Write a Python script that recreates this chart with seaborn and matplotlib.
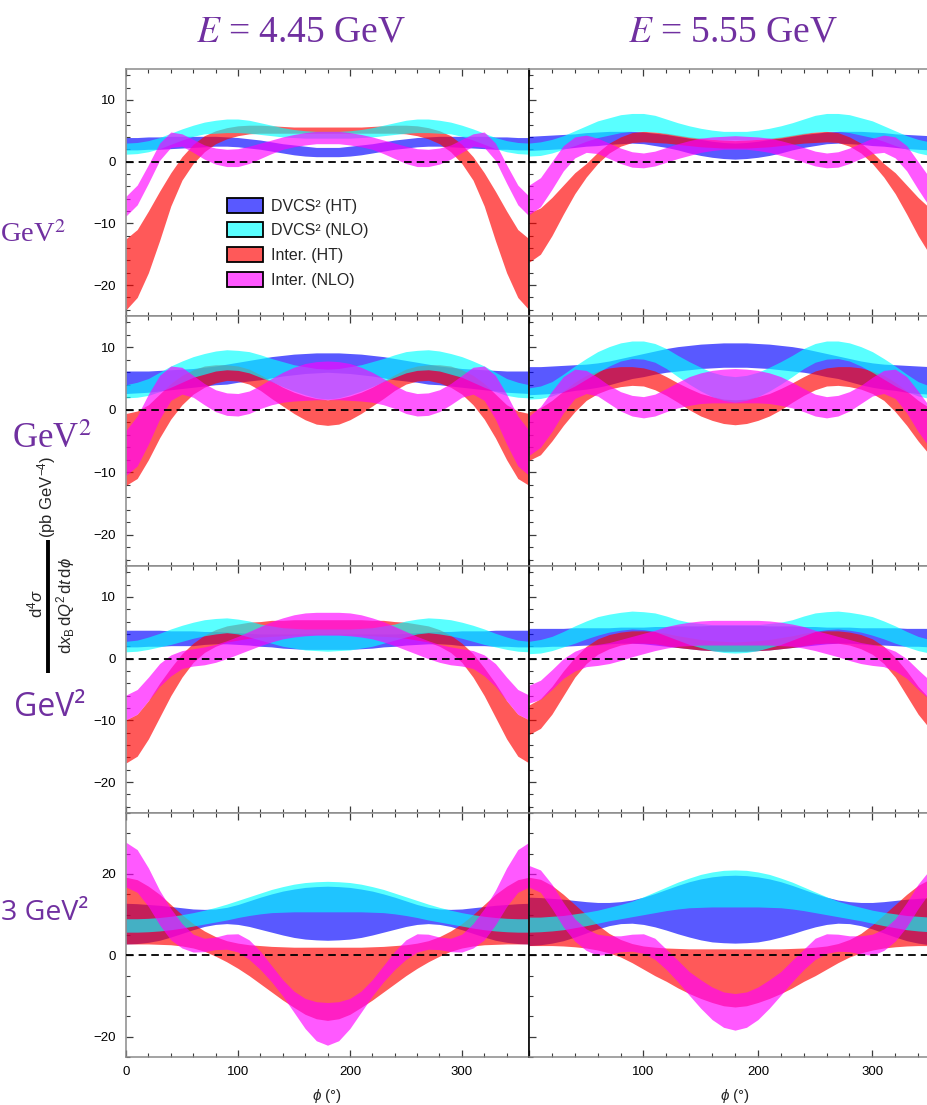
import matplotlib
matplotlib.use("Agg")
import matplotlib.pyplot as plt
import seaborn as sns
from matplotlib.colors import to_rgba
from matplotlib.lines import Line2D
from matplotlib.patches import Patch
from matplotlib.ticker import FixedLocator, MultipleLocator

# ---------------------------------------------------------------------------
# Azimuthal angle grid (degrees)
PHI = [0, 10, 20, 30, 40, 50, 60, 70, 80, 90, 100, 110, 120, 130, 140, 150, 160, 170, 180,
       190, 200, 210, 220, 230, 240, 250, 260, 270, 280, 290, 300, 310, 320, 330, 340, 350, 360]

# Cross-section bands (pb GeV^-4): lower / upper edge of each band
# ---- Q^2 bin 1 ----------------------------------------------------------
Q1_E445_DVCS_HT_HI = [3.9,3.9,4.0,4.0,4.1,4.1,4.1,4.1,4.1,4.0,3.9,3.7,3.5,3.2,2.9,2.7,2.5,2.3,2.3,2.3,2.5,2.7,2.9,3.2,3.5,3.7,3.9,4.0,4.1,4.1,4.1,4.1,4.1,4.0,4.0,3.9,3.9]
Q1_E445_DVCS_HT_LO = [1.9,1.9,2.0,2.0,2.1,2.2,2.3,2.4,2.5,2.5,2.4,2.2,2.0,1.7,1.4,1.1,0.9,0.8,0.8,0.8,0.9,1.1,1.4,1.7,2.0,2.2,2.4,2.5,2.5,2.4,2.3,2.2,2.1,2.0,2.0,1.9,1.9]
Q1_E445_DVCS_NLO_HI = [3.0,3.1,3.4,3.9,4.6,5.3,5.9,6.4,6.7,6.9,6.9,6.7,6.3,5.9,5.5,5.2,5.0,4.9,4.9,4.9,5.0,5.2,5.5,5.9,6.3,6.7,6.9,6.9,6.7,6.4,5.9,5.3,4.6,3.9,3.4,3.1,3.0]
Q1_E445_DVCS_NLO_LO = [1.2,1.3,1.6,2.1,2.8,3.5,4.1,4.5,4.6,4.7,4.7,4.6,4.4,4.2,4.0,3.9,3.8,3.8,3.8,3.8,3.8,3.9,4.0,4.2,4.4,4.6,4.7,4.7,4.6,4.5,4.1,3.5,2.8,2.1,1.6,1.3,1.2]
Q1_E445_INT_HT_HI = [-12.5,-11.0,-8.0,-4.8,-1.8,0.8,2.8,4.2,5.0,5.5,5.8,5.9,5.9,5.8,5.7,5.6,5.6,5.6,5.6,5.6,5.6,5.6,5.7,5.8,5.9,5.9,5.8,5.5,5.0,4.2,2.8,0.8,-1.8,-4.8,-8.0,-11.0,-12.5]
Q1_E445_INT_HT_LO = [-24.0,-22.0,-18.0,-12.8,-7.2,-3.0,-0.3,1.6,2.9,3.7,4.2,4.5,4.6,4.6,4.6,4.6,4.6,4.6,4.6,4.6,4.6,4.6,4.6,4.6,4.6,4.5,4.2,3.7,2.9,1.6,-0.3,-3.0,-7.2,-12.8,-18.0,-22.0,-24.0]
Q1_E445_INT_NLO_HI = [-5.6,-3.8,-0.5,3.0,4.8,4.5,3.6,2.7,2.2,2.0,2.1,2.5,3.0,3.5,4.0,4.4,4.7,4.9,4.9,4.9,4.7,4.4,4.0,3.5,3.0,2.5,2.1,2.0,2.2,2.7,3.6,4.5,4.8,3.0,-0.5,-3.8,-5.6]
Q1_E445_INT_NLO_LO = [-8.8,-7.0,-3.5,0.2,2.3,2.5,1.5,0.4,-0.4,-0.8,-0.8,-0.3,0.5,1.3,2.0,2.4,2.7,2.9,2.9,2.9,2.7,2.4,2.0,1.3,0.5,-0.3,-0.8,-0.8,-0.4,0.4,1.5,2.5,2.3,0.2,-3.5,-7.0,-8.8]

Q1_E555_DVCS_HT_HI = [4.1,4.2,4.3,4.4,4.5,4.7,4.8,4.9,4.9,4.9,4.8,4.6,4.4,4.1,3.8,3.6,3.3,3.1,3.0,3.1,3.3,3.6,3.8,4.1,4.4,4.6,4.8,4.9,4.9,4.9,4.8,4.7,4.5,4.4,4.3,4.2,4.1]
Q1_E555_DVCS_HT_LO = [1.8,1.9,2.0,2.1,2.3,2.5,2.6,2.8,2.9,3.0,2.9,2.6,2.3,1.9,1.4,1.0,0.7,0.5,0.4,0.5,0.7,1.0,1.4,1.9,2.3,2.6,2.9,3.0,2.9,2.8,2.6,2.5,2.3,2.1,2.0,1.9,1.8]
Q1_E555_DVCS_NLO_HI = [3.0,3.2,3.6,4.2,5.0,5.8,6.6,7.1,7.6,7.8,7.8,7.5,6.9,6.3,5.8,5.4,5.1,4.9,4.9,4.9,5.1,5.4,5.8,6.3,6.9,7.5,7.8,7.8,7.6,7.1,6.6,5.8,5.0,4.2,3.6,3.2,3.0]
Q1_E555_DVCS_NLO_LO = [0.9,1.0,1.4,2.0,2.6,3.3,3.9,4.3,4.7,4.9,4.9,4.8,4.5,4.2,3.9,3.7,3.6,3.5,3.5,3.5,3.6,3.7,3.9,4.2,4.5,4.8,4.9,4.9,4.7,4.3,3.9,3.3,2.6,2.0,1.4,1.0,0.9]
Q1_E555_INT_HT_HI = [-8.3,-7.5,-5.8,-3.8,-1.8,-0.3,1.5,3.0,4.0,4.7,4.9,4.8,4.6,4.3,4.0,3.8,3.6,3.5,3.4,3.5,3.6,3.8,4.0,4.3,4.6,4.8,4.9,4.7,4.0,3.0,1.5,-0.3,-1.8,-3.8,-5.8,-7.5,-8.3]
Q1_E555_INT_HT_LO = [-16.3,-15.0,-12.0,-8.5,-5.2,-2.5,-0.3,1.4,2.5,3.1,3.2,3.1,3.0,2.8,2.6,2.4,2.3,2.2,2.2,2.2,2.3,2.4,2.6,2.8,3.0,3.1,3.2,3.1,2.5,1.4,-0.3,-2.5,-5.2,-8.5,-12.0,-15.0,-16.3]
Q1_E555_INT_NLO_HI = [-3.8,-2.6,0.0,2.6,4.0,4.3,3.8,3.0,2.2,1.6,1.4,1.7,2.3,2.9,3.4,3.8,4.0,4.1,4.2,4.1,4.0,3.8,3.4,2.9,2.3,1.7,1.4,1.6,2.2,3.0,3.8,4.3,4.0,2.6,0.0,-2.6,-3.8]
Q1_E555_INT_NLO_LO = [-8.6,-7.3,-4.5,-1.5,0.6,1.5,1.3,0.5,-0.3,-0.9,-1.0,-0.7,-0.1,0.5,1.0,1.5,1.8,2.0,2.0,2.0,1.8,1.5,1.0,0.5,-0.1,-0.7,-1.0,-0.9,-0.3,0.5,1.3,1.5,0.6,-1.5,-4.5,-7.3,-8.6]

# ---- Q^2 bin 2 ----------------------------------------------------------
Q2_E445_DVCS_HT_HI = [6.2,6.2,6.2,6.3,6.4,6.5,6.6,6.8,7.0,7.3,7.6,7.9,8.2,8.5,8.7,8.9,9.0,9.1,9.1,9.1,9.0,8.9,8.7,8.5,8.2,7.9,7.6,7.3,7.0,6.8,6.6,6.5,6.4,6.3,6.2,6.2,6.2]
Q2_E445_DVCS_HT_LO = [2.6,2.7,2.8,3.0,3.2,3.4,3.6,3.8,4.0,4.1,4.4,4.6,4.8,5.1,5.4,5.6,5.8,5.9,6.0,5.9,5.8,5.6,5.4,5.1,4.8,4.6,4.4,4.1,4.0,3.8,3.6,3.4,3.2,3.0,2.8,2.7,2.6]
Q2_E445_DVCS_NLO_HI = [4.0,4.4,5.0,6.0,7.0,7.8,8.5,9.0,9.4,9.6,9.5,9.3,8.8,8.2,7.7,7.2,6.9,6.6,6.5,6.6,6.9,7.2,7.7,8.2,8.8,9.3,9.5,9.6,9.4,9.0,8.5,7.8,7.0,6.0,5.0,4.4,4.0]
Q2_E445_DVCS_NLO_LO = [1.9,2.0,2.3,2.9,3.6,4.4,5.2,5.7,6.2,6.4,6.3,5.9,5.2,4.5,3.7,3.0,2.4,1.9,1.7,1.9,2.4,3.0,3.7,4.5,5.2,5.9,6.3,6.4,6.2,5.7,5.2,4.4,3.6,2.9,2.3,2.0,1.9]
Q2_E445_INT_HT_HI = [-0.6,-0.2,0.8,2.5,4.2,5.5,6.4,7.0,7.2,7.2,7.0,6.5,5.6,4.6,3.6,2.8,2.2,1.8,1.6,1.8,2.2,2.8,3.6,4.6,5.6,6.5,7.0,7.2,7.2,7.0,6.4,5.5,4.2,2.5,0.8,-0.2,-0.6]
Q2_E445_INT_HT_LO = [-12.1,-11.0,-8.0,-4.5,-1.5,0.8,2.5,3.6,4.3,4.7,4.6,4.1,3.1,1.8,0.6,-0.6,-1.6,-2.3,-2.5,-2.3,-1.6,-0.6,0.6,1.8,3.1,4.1,4.6,4.7,4.3,3.6,2.5,0.8,-1.5,-4.5,-8.0,-11.0,-12.1]
Q2_E445_INT_NLO_HI = [-3.3,-1.0,2.5,5.5,7.0,6.8,5.5,4.2,3.2,2.7,2.6,3.0,3.9,5.0,6.0,6.8,7.4,7.7,7.8,7.7,7.4,6.8,6.0,5.0,3.9,3.0,2.6,2.7,3.2,4.2,5.5,6.8,7.0,5.5,2.5,-1.0,-3.3]
Q2_E445_INT_NLO_LO = [-10.5,-9.0,-5.5,-1.5,1.5,2.5,2.0,0.8,-0.3,-0.9,-1.0,-0.6,0.2,0.8,1.2,1.4,1.5,1.6,1.6,1.6,1.5,1.4,1.2,0.8,0.2,-0.6,-1.0,-0.9,-0.3,0.8,2.0,2.5,1.5,-1.5,-5.5,-9.0,-10.5]

Q2_E555_DVCS_HT_HI = [6.9,6.9,7.0,7.1,7.2,7.3,7.5,7.8,8.2,8.6,9.0,9.4,9.8,10.1,10.3,10.5,10.6,10.7,10.7,10.7,10.6,10.5,10.3,10.1,9.8,9.4,9.0,8.6,8.2,7.8,7.5,7.3,7.2,7.1,7.0,6.9,6.9]
Q2_E555_DVCS_HT_LO = [2.4,2.5,2.6,2.8,3.1,3.3,3.6,4.0,4.5,5.0,5.3,5.7,6.0,6.2,6.4,6.6,6.7,6.8,6.8,6.8,6.7,6.6,6.4,6.2,6.0,5.7,5.3,5.0,4.5,4.0,3.6,3.3,3.1,2.8,2.6,2.5,2.4]
Q2_E555_DVCS_NLO_HI = [3.5,3.8,4.5,5.7,7.0,8.2,9.3,10.1,10.7,11.0,11.0,10.6,9.8,8.7,7.7,6.8,6.0,5.5,5.3,5.5,6.0,6.8,7.7,8.7,9.8,10.6,11.0,11.0,10.7,10.1,9.3,8.2,7.0,5.7,4.5,3.8,3.5]
Q2_E555_DVCS_NLO_LO = [1.7,1.8,2.2,2.9,3.8,4.9,6.0,7.0,7.8,8.2,8.1,7.6,6.6,5.3,4.1,3.0,2.1,1.5,1.2,1.5,2.1,3.0,4.1,5.3,6.6,7.6,8.1,8.2,7.8,7.0,6.0,4.9,3.8,2.9,2.2,1.8,1.7]
Q2_E555_INT_HT_HI = [-0.3,0.3,1.5,3.0,4.4,5.5,6.2,6.7,6.9,6.9,6.7,6.2,5.3,4.3,3.4,2.6,2.1,1.7,1.6,1.7,2.1,2.6,3.4,4.3,5.3,6.2,6.7,6.9,6.9,6.7,6.2,5.5,4.4,3.0,1.5,0.3,-0.3]
Q2_E555_INT_HT_LO = [-8.1,-7.2,-5.0,-2.5,-0.3,1.5,2.6,3.3,3.7,3.9,3.8,3.2,2.3,1.2,0.0,-1.0,-1.7,-2.2,-2.4,-2.2,-1.7,-1.0,0.0,1.2,2.3,3.2,3.8,3.9,3.7,3.3,2.6,1.5,-0.3,-2.5,-5.0,-7.2,-8.1]
Q2_E555_INT_NLO_HI = [-1.0,0.5,3.0,5.3,6.5,6.3,5.2,3.9,2.9,2.3,2.1,2.5,3.4,4.4,5.3,5.9,6.3,6.5,6.6,6.5,6.3,5.9,5.3,4.4,3.4,2.5,2.1,2.3,2.9,3.9,5.2,6.3,6.5,5.3,3.0,0.5,-1.0]
Q2_E555_INT_NLO_LO = [-7.3,-6.0,-3.5,-0.5,1.8,2.6,2.2,1.0,-0.2,-1.0,-1.3,-1.0,-0.3,0.3,0.7,1.0,1.1,1.1,1.1,1.1,1.1,1.0,0.7,0.3,-0.3,-1.0,-1.3,-1.0,-0.2,1.0,2.2,2.6,1.8,-0.5,-3.5,-6.0,-7.3]

# ---- Q^2 bin 3 ----------------------------------------------------------
Q3_E445_DVCS_HT_HI = [4.6,4.6,4.6,4.6,4.5,4.5,4.5,4.4,4.4,4.3,4.2,4.1,4.0,4.0,4.0,4.0,4.0,4.0,4.0,4.0,4.0,4.0,4.0,4.0,4.0,4.1,4.2,4.3,4.4,4.4,4.5,4.5,4.5,4.6,4.6,4.6,4.6]
Q3_E445_DVCS_HT_LO = [1.9,1.9,2.0,2.0,2.1,2.1,2.1,2.3,2.4,2.4,2.3,2.2,2.0,1.9,1.7,1.6,1.5,1.5,1.5,1.5,1.5,1.6,1.7,1.9,2.0,2.2,2.3,2.4,2.4,2.3,2.1,2.1,2.1,2.0,2.0,1.9,1.9]
Q3_E445_DVCS_NLO_HI = [2.8,3.0,3.5,4.1,4.8,5.4,5.9,6.3,6.5,6.6,6.4,6.1,5.6,5.3,5.0,4.9,4.8,4.8,4.8,4.8,4.8,4.9,5.0,5.3,5.6,6.1,6.4,6.6,6.5,6.3,5.9,5.4,4.8,4.1,3.5,3.0,2.8]
Q3_E445_DVCS_NLO_LO = [1.1,1.2,1.5,1.9,2.3,2.8,3.3,3.7,4.0,4.2,4.0,3.5,3.0,2.5,2.0,1.7,1.4,1.3,1.2,1.3,1.4,1.7,2.0,2.5,3.0,3.5,4.0,4.2,4.0,3.7,3.3,2.8,2.3,1.9,1.5,1.2,1.1]
Q3_E445_INT_HT_HI = [-9.9,-9.0,-6.8,-4.0,-1.5,0.8,2.5,3.8,4.7,5.3,5.6,5.9,6.0,6.2,6.2,6.3,6.3,6.3,6.3,6.3,6.3,6.3,6.2,6.2,6.0,5.9,5.6,5.3,4.7,3.8,2.5,0.8,-1.5,-4.0,-6.8,-9.0,-9.9]
Q3_E445_INT_HT_LO = [-16.9,-15.8,-13.0,-9.5,-6.0,-3.0,-0.6,1.0,2.0,2.7,3.0,3.3,3.5,3.6,3.7,3.8,3.8,3.9,3.9,3.9,3.8,3.8,3.7,3.6,3.5,3.3,3.0,2.7,2.0,1.0,-0.6,-3.0,-6.0,-9.5,-13.0,-15.8,-16.9]
Q3_E445_INT_NLO_HI = [-5.9,-5.0,-3.0,-0.8,0.6,1.3,1.6,1.9,2.3,2.9,3.6,4.4,5.2,6.0,6.6,7.1,7.4,7.5,7.5,7.5,7.4,7.1,6.6,6.0,5.2,4.4,3.6,2.9,2.3,1.9,1.6,1.3,0.6,-0.8,-3.0,-5.0,-5.9]
Q3_E445_INT_NLO_LO = [-9.9,-9.0,-6.8,-4.5,-2.8,-1.6,-1.2,-1.0,-0.6,0.0,0.7,1.4,2.1,2.7,3.2,3.5,3.7,3.8,3.8,3.8,3.7,3.5,3.2,2.7,2.1,1.4,0.7,0.0,-0.6,-1.0,-1.2,-1.6,-2.8,-4.5,-6.8,-9.0,-9.9]

Q3_E555_DVCS_HT_HI = [4.9,4.9,4.9,4.9,5.0,5.0,5.0,5.0,5.1,5.1,5.1,5.2,5.2,5.3,5.3,5.3,5.4,5.4,5.4,5.4,5.4,5.3,5.3,5.3,5.2,5.2,5.1,5.1,5.1,5.0,5.0,5.0,5.0,4.9,4.9,4.9,4.9]
Q3_E555_DVCS_HT_LO = [1.9,1.9,2.0,2.0,2.1,2.2,2.2,2.4,2.5,2.5,2.4,2.2,2.0,1.8,1.6,1.4,1.3,1.2,1.2,1.2,1.3,1.4,1.6,1.8,2.0,2.2,2.4,2.5,2.5,2.4,2.2,2.2,2.1,2.0,2.0,1.9,1.9]
Q3_E555_DVCS_NLO_HI = [2.8,3.1,3.6,4.4,5.3,6.1,6.8,7.2,7.5,7.7,7.6,7.4,6.9,6.3,5.9,5.7,5.5,5.5,5.5,5.5,5.5,5.7,5.9,6.3,6.9,7.4,7.6,7.7,7.5,7.2,6.8,6.1,5.3,4.4,3.6,3.1,2.8]
Q3_E555_DVCS_NLO_LO = [0.8,0.9,1.3,1.9,2.5,3.2,3.8,4.3,4.6,4.8,4.7,4.4,3.7,3.0,2.3,1.8,1.3,1.0,0.9,1.0,1.3,1.8,2.3,3.0,3.7,4.4,4.7,4.8,4.6,4.3,3.8,3.2,2.5,1.9,1.3,0.9,0.8]
Q3_E555_INT_HT_HI = [-7.5,-6.5,-4.5,-2.0,0.2,2.0,3.2,3.9,4.3,4.5,4.5,4.4,4.1,3.7,3.4,3.1,2.9,2.8,2.7,2.8,2.9,3.1,3.4,3.7,4.1,4.4,4.5,4.5,4.3,3.9,3.2,2.0,0.2,-2.0,-4.5,-6.5,-7.5]
Q3_E555_INT_HT_LO = [-12.3,-11.3,-9.0,-6.0,-3.0,-0.8,0.7,1.6,2.2,2.5,2.5,2.4,2.1,1.8,1.6,1.4,1.3,1.2,1.2,1.2,1.3,1.4,1.6,1.8,2.1,2.4,2.5,2.5,2.2,1.6,0.7,-0.8,-3.0,-6.0,-9.0,-11.3,-12.3]
Q3_E555_INT_NLO_HI = [-4.3,-3.5,-1.8,0.0,1.2,1.9,2.3,2.6,3.1,3.6,4.1,4.6,5.2,5.6,5.9,6.1,6.2,6.2,6.2,6.2,6.2,6.1,5.9,5.6,5.2,4.6,4.1,3.6,3.1,2.6,2.3,1.9,1.2,0.0,-1.8,-3.5,-4.3]
Q3_E555_INT_NLO_LO = [-7.2,-6.6,-5.0,-3.2,-2.0,-1.3,-1.1,-0.8,-0.3,0.3,0.8,1.3,1.7,2.0,2.1,2.2,2.2,2.2,2.2,2.2,2.2,2.2,2.1,2.0,1.7,1.3,0.8,0.3,-0.3,-0.8,-1.1,-1.3,-2.0,-3.2,-5.0,-6.6,-7.2]

# ---- Q^2 bin 4 ----------------------------------------------------------
Q4_E445_DVCS_HT_HI = [12.8,12.7,12.5,12.3,12.0,11.7,11.4,11.3,11.4,11.8,12.5,13.4,14.3,15.1,15.8,16.3,16.7,16.9,17.0,16.9,16.7,16.3,15.8,15.1,14.3,13.4,12.5,11.8,11.4,11.3,11.4,11.7,12.0,12.3,12.5,12.7,12.8]
Q4_E445_DVCS_HT_LO = [2.8,2.9,3.2,3.7,4.5,5.4,6.3,7.1,7.6,7.8,7.6,7.1,6.4,5.7,5.0,4.4,4.0,3.8,3.7,3.8,4.0,4.4,5.0,5.7,6.4,7.1,7.6,7.8,7.6,7.1,6.3,5.4,4.5,3.7,3.2,2.9,2.8]
Q4_E445_DVCS_NLO_HI = [9.0,9.0,9.1,9.3,9.6,10.0,10.5,11.1,11.8,12.6,13.5,14.4,15.3,16.2,16.9,17.5,17.9,18.1,18.2,18.1,17.9,17.5,16.9,16.2,15.3,14.4,13.5,12.6,11.8,11.1,10.5,10.0,9.6,9.3,9.1,9.0,9.0]
Q4_E445_DVCS_NLO_LO = [5.7,5.7,5.8,6.0,6.3,6.7,7.2,7.7,8.2,8.7,9.3,9.8,10.2,10.5,10.6,10.7,10.7,10.7,10.7,10.7,10.7,10.7,10.6,10.5,10.2,9.8,9.3,8.7,8.2,7.7,7.2,6.7,6.3,6.0,5.8,5.7,5.7]
Q4_E445_INT_HT_HI = [19.2,18.6,17.0,15.0,12.5,10.0,7.8,6.0,4.6,3.6,3.0,2.6,2.4,2.2,2.1,2.0,2.0,2.0,2.0,2.0,2.0,2.0,2.1,2.2,2.4,2.6,3.0,3.6,4.6,6.0,7.8,10.0,12.5,15.0,17.0,18.6,19.2]
Q4_E445_INT_HT_LO = [2.8,2.8,2.8,2.7,2.6,2.3,1.8,1.0,-0.2,-1.6,-3.2,-5.0,-7.0,-9.0,-11.0,-12.8,-14.5,-15.6,-16.0,-15.6,-14.5,-12.8,-11.0,-9.0,-7.0,-5.0,-3.2,-1.6,-0.2,1.0,1.8,2.3,2.6,2.7,2.8,2.8,2.8]
Q4_E445_INT_NLO_HI = [27.8,26.0,21.5,16.0,11.5,7.8,5.2,4.2,4.5,5.2,5.3,3.8,1.0,-2.5,-6.0,-8.8,-10.6,-11.4,-11.6,-11.4,-10.6,-8.8,-6.0,-2.5,1.0,3.8,5.3,5.2,4.5,4.2,5.2,7.8,11.5,16.0,21.5,26.0,27.8]
Q4_E445_INT_NLO_LO = [16.8,15.5,12.0,7.5,3.8,1.8,0.8,0.9,1.4,1.5,0.8,-1.0,-3.5,-6.5,-10.0,-14.0,-18.0,-21.0,-22.1,-21.0,-18.0,-14.0,-10.0,-6.5,-3.5,-1.0,0.8,1.5,1.4,0.9,0.8,1.8,3.8,7.5,12.0,15.5,16.8]

Q4_E555_DVCS_HT_HI = [14.3,14.2,14.0,13.8,13.5,13.2,13.0,13.0,13.2,13.6,14.3,15.2,16.2,17.2,18.1,18.8,19.3,19.6,19.7,19.6,19.3,18.8,18.1,17.2,16.2,15.2,14.3,13.6,13.2,13.0,13.0,13.2,13.5,13.8,14.0,14.2,14.3]
Q4_E555_DVCS_HT_LO = [2.4,2.6,3.0,3.6,4.5,5.5,6.5,7.3,7.8,7.9,7.6,7.0,6.2,5.3,4.5,3.8,3.3,3.1,3.0,3.1,3.3,3.8,4.5,5.3,6.2,7.0,7.6,7.9,7.8,7.3,6.5,5.5,4.5,3.6,3.0,2.6,2.4]
Q4_E555_DVCS_NLO_HI = [9.4,9.4,9.6,9.8,10.2,10.6,11.1,11.8,12.5,13.3,14.4,15.6,16.8,18.0,19.0,19.9,20.5,20.9,21.0,20.9,20.5,19.9,19.0,18.0,16.8,15.6,14.4,13.3,12.5,11.8,11.1,10.6,10.2,9.8,9.6,9.4,9.4]
Q4_E555_DVCS_NLO_LO = [5.7,5.8,6.0,6.3,6.8,7.3,7.9,8.5,9.0,9.5,10.0,10.5,11.0,11.4,11.7,11.8,11.9,11.9,11.9,11.9,11.9,11.8,11.7,11.4,11.0,10.5,10.0,9.5,9.0,8.5,7.9,7.3,6.8,6.3,6.0,5.8,5.7]
Q4_E555_INT_HT_HI = [19.2,18.7,17.2,15.0,12.5,10.0,7.5,5.4,3.9,2.9,2.3,2.0,1.8,1.7,1.6,1.6,1.6,1.6,1.6,1.6,1.6,1.6,1.6,1.7,1.8,2.0,2.3,2.9,3.9,5.4,7.5,10.0,12.5,15.0,17.2,18.7,19.2]
Q4_E555_INT_HT_LO = [2.4,2.4,2.4,2.3,2.1,1.8,1.3,0.6,-0.4,-1.8,-3.4,-5.0,-6.4,-8.0,-9.4,-10.6,-11.6,-12.4,-12.7,-12.4,-11.6,-10.6,-9.4,-8.0,-6.4,-5.0,-3.4,-1.8,-0.4,0.6,1.3,1.8,2.1,2.3,2.4,2.4,2.4]
Q4_E555_INT_NLO_HI = [22.1,21.0,17.5,13.0,9.0,6.5,5.2,4.8,4.8,5.2,5.3,4.2,1.5,-1.2,-4.0,-6.0,-7.8,-9.0,-9.4,-9.0,-7.8,-6.0,-4.0,-1.2,1.5,4.2,5.3,5.2,4.8,4.8,5.2,6.5,9.0,13.0,17.5,21.0,22.1]
Q4_E555_INT_NLO_LO = [16.8,15.5,11.5,7.0,3.5,1.2,0.0,0.3,0.9,1.0,0.5,-1.0,-3.5,-6.5,-9.8,-13.0,-15.8,-17.7,-18.4,-17.7,-15.8,-13.0,-9.8,-6.5,-3.5,-1.0,0.5,1.0,0.9,0.3,0.0,1.2,3.5,7.0,11.5,15.5,16.8]

# Series: key, legend label, colour
SERIES_KEYS = ["dvcs_ht", "dvcs_nlo", "int_ht", "int_nlo"]
SERIES_LABELS = ["DVCS\u00b2 (HT)", "DVCS\u00b2 (NLO)", "Inter. (HT)", "Inter. (NLO)"]
SERIES_COLORS = ["#0000ff", "#00ffff", "#ff0000", "#ff00ff"]
DRAW_ORDER = ["dvcs_ht", "int_ht", "dvcs_nlo", "int_nlo"]
BAND_ALPHA = 0.65

BEAM_ENERGIES = ["4.45", "5.55"]
ROW_TAGS = ["GeV$^2$", "GeV$^2$", "GeV\u00b2", "3 GeV\u00b2"]
X_TICKS = [0, 100, 200, 300]

PANELS = {
    (0, 0): {"dvcs_ht": (Q1_E445_DVCS_HT_LO, Q1_E445_DVCS_HT_HI), "dvcs_nlo": (Q1_E445_DVCS_NLO_LO, Q1_E445_DVCS_NLO_HI),
             "int_ht": (Q1_E445_INT_HT_LO, Q1_E445_INT_HT_HI), "int_nlo": (Q1_E445_INT_NLO_LO, Q1_E445_INT_NLO_HI)},
    (0, 1): {"dvcs_ht": (Q1_E555_DVCS_HT_LO, Q1_E555_DVCS_HT_HI), "dvcs_nlo": (Q1_E555_DVCS_NLO_LO, Q1_E555_DVCS_NLO_HI),
             "int_ht": (Q1_E555_INT_HT_LO, Q1_E555_INT_HT_HI), "int_nlo": (Q1_E555_INT_NLO_LO, Q1_E555_INT_NLO_HI)},
    (1, 0): {"dvcs_ht": (Q2_E445_DVCS_HT_LO, Q2_E445_DVCS_HT_HI), "dvcs_nlo": (Q2_E445_DVCS_NLO_LO, Q2_E445_DVCS_NLO_HI),
             "int_ht": (Q2_E445_INT_HT_LO, Q2_E445_INT_HT_HI), "int_nlo": (Q2_E445_INT_NLO_LO, Q2_E445_INT_NLO_HI)},
    (1, 1): {"dvcs_ht": (Q2_E555_DVCS_HT_LO, Q2_E555_DVCS_HT_HI), "dvcs_nlo": (Q2_E555_DVCS_NLO_LO, Q2_E555_DVCS_NLO_HI),
             "int_ht": (Q2_E555_INT_HT_LO, Q2_E555_INT_HT_HI), "int_nlo": (Q2_E555_INT_NLO_LO, Q2_E555_INT_NLO_HI)},
    (2, 0): {"dvcs_ht": (Q3_E445_DVCS_HT_LO, Q3_E445_DVCS_HT_HI), "dvcs_nlo": (Q3_E445_DVCS_NLO_LO, Q3_E445_DVCS_NLO_HI),
             "int_ht": (Q3_E445_INT_HT_LO, Q3_E445_INT_HT_HI), "int_nlo": (Q3_E445_INT_NLO_LO, Q3_E445_INT_NLO_HI)},
    (2, 1): {"dvcs_ht": (Q3_E555_DVCS_HT_LO, Q3_E555_DVCS_HT_HI), "dvcs_nlo": (Q3_E555_DVCS_NLO_LO, Q3_E555_DVCS_NLO_HI),
             "int_ht": (Q3_E555_INT_HT_LO, Q3_E555_INT_HT_HI), "int_nlo": (Q3_E555_INT_NLO_LO, Q3_E555_INT_NLO_HI)},
    (3, 0): {"dvcs_ht": (Q4_E445_DVCS_HT_LO, Q4_E445_DVCS_HT_HI), "dvcs_nlo": (Q4_E445_DVCS_NLO_LO, Q4_E445_DVCS_NLO_HI),
             "int_ht": (Q4_E445_INT_HT_LO, Q4_E445_INT_HT_HI), "int_nlo": (Q4_E445_INT_NLO_LO, Q4_E445_INT_NLO_HI)},
    (3, 1): {"dvcs_ht": (Q4_E555_DVCS_HT_LO, Q4_E555_DVCS_HT_HI), "dvcs_nlo": (Q4_E555_DVCS_NLO_LO, Q4_E555_DVCS_NLO_HI),
             "int_ht": (Q4_E555_INT_HT_LO, Q4_E555_INT_HT_HI), "int_nlo": (Q4_E555_INT_NLO_LO, Q4_E555_INT_NLO_HI)},
}
for bands in PANELS.values():
    for lo, hi in bands.values():
        assert len(lo) == len(PHI) and len(hi) == len(PHI)

# ---------------------------------------------------------------------------
sns.set_theme(style="ticks")
plt.rcParams["font.family"] = ["Liberation Sans", "DejaVu Sans"]
plt.rcParams["mathtext.fontset"] = "custom"
plt.rcParams["mathtext.rm"] = "Liberation Sans"
plt.rcParams["mathtext.it"] = "Liberation Sans:italic"
plt.rcParams["mathtext.bf"] = "Liberation Sans:bold"
plt.rcParams["mathtext.sf"] = "Liberation Sans"
plt.rcParams["mathtext.fallback"] = "stixsans"
plt.rcParams["axes.unicode_minus"] = True

W, H = 927, 1105
PURPLE = "#7030a0"
FRAME = "#8a8a8a"

fig = plt.figure(figsize=(W / 100, H / 100), dpi=100)
fig.patch.set_facecolor("white")


def fig_rect(x0, y0, x1, y1):
    return [x0 / W, 1 - y1 / H, (x1 - x0) / W, (y1 - y0) / H]


def fx(x):
    return x / W


def fy(y):
    return 1 - y / H


COL_X = [(126, 529), (529, 941)]
ROW_Y = [(69, 316), (316, 566), (566, 813), (813, 1057)]
color_of = dict(zip(SERIES_KEYS, SERIES_COLORS))

axes = {}
for r in range(4):
    for c in range(2):
        ax = fig.add_axes(fig_rect(COL_X[c][0], ROW_Y[r][0], COL_X[c][1], ROW_Y[r][1]))
        axes[(r, c)] = ax
        for key in DRAW_ORDER:
            lo, hi = PANELS[(r, c)][key]
            ax.fill_between(PHI, lo, hi, color=color_of[key], alpha=BAND_ALPHA,
                            linewidth=0, zorder=2)
        ax.axhline(0, color="black", lw=1.3, ls=(0, (4.2, 2.8)), zorder=5)

        ax.set_xlim(0, 360)
        if r < 3:
            ax.set_ylim(-25, 15)
            ax.yaxis.set_major_locator(MultipleLocator(10))
            ax.yaxis.set_minor_locator(MultipleLocator(2))
        else:
            ax.set_ylim(-25, 35)
            ax.yaxis.set_major_locator(MultipleLocator(20))
            ax.yaxis.set_minor_locator(MultipleLocator(5))
        ax.xaxis.set_major_locator(FixedLocator(X_TICKS))
        ax.xaxis.set_minor_locator(MultipleLocator(20))
        if c == 0:
            ax.set_xticklabels([str(t) for t in X_TICKS])
        else:
            ax.set_xticklabels([""] + [str(t) for t in X_TICKS[1:]])

        ax.tick_params(which="both", direction="in", top=True, bottom=True,
                       left=True, right=False, labelleft=(c == 0),
                       labelbottom=(r == 3), color="#3c3c3c", labelcolor="black",
                       labelsize=9.5)
        ax.tick_params(axis="y", which="major", pad=7.5)
        ax.tick_params(axis="x", which="major", pad=6.5)
        ax.tick_params(which="major", length=5.2, width=0.9)
        ax.tick_params(which="minor", length=3.0, width=0.8)
        for sp in ax.spines.values():
            sp.set_color(FRAME)
            sp.set_linewidth(1.1)
        if c == 1:
            ax.spines["left"].set_color("black")
            ax.spines["left"].set_linewidth(1.2)
        ax.grid(False)

# Legend in the first panel
handles = [Patch(facecolor=to_rgba(col, BAND_ALPHA), edgecolor="black", linewidth=1.3, label=lab)
           for lab, col in zip(SERIES_LABELS, SERIES_COLORS)]
axes[(0, 0)].legend(handles=handles, loc="upper left", bbox_to_anchor=(0.25, 0.479),
                    frameon=False, fontsize=11.5, borderpad=0.0, borderaxespad=0.0,
                    handlelength=2.25, handleheight=1.06, handletextpad=0.5,
                    labelspacing=0.55)

# Column headings (beam energy)
for c, e in enumerate(BEAM_ENERGIES):
    xc = [301, 733][c]
    fig.text(fx(xc), fy(42), r"$E$ = " + e + " GeV", ha="center", va="baseline",
             fontsize=27, color=PURPLE, family="Liberation Serif", math_fontfamily="stix")

# Row tags on the left edge
fig.text(fx(66), fy(242), ROW_TAGS[0], ha="right", va="baseline", fontsize=20.5,
         color=PURPLE, family="Liberation Serif", math_fontfamily="stix")
fig.text(fx(92), fy(448), ROW_TAGS[1], ha="right", va="baseline", fontsize=25,
         color=PURPLE, family="Liberation Serif", math_fontfamily="stix")
fig.text(fx(85), fy(716), ROW_TAGS[2], ha="right", va="baseline", fontsize=23,
         color=PURPLE, family="Open Sans")
fig.text(fx(1), fy(920), ROW_TAGS[3], ha="left", va="baseline", fontsize=20.5,
         color=PURPLE, family="Open Sans")

# Vertical axis title: fraction with a heavy bar, followed by units
fig.text(fx(35), fy(604), r"$\mathrm{d}^4\sigma$", rotation=90, ha="center", va="center",
         fontsize=12)
fig.add_artist(Line2D([fx(48), fx(48)], [fy(540), fy(673)], color="black", lw=2.8,
                      solid_capstyle="butt"))
fig.text(fx(66), fy(606), r"$\mathrm{d}x_\mathrm{B}\,\mathrm{d}Q^2\,\mathrm{d}t\,\mathrm{d}\phi$",
         rotation=90, ha="center", va="center", fontsize=12)
fig.text(fx(47), fy(497), r"(pb GeV$^{-4}$)", rotation=90, ha="center", va="center",
         fontsize=12)

# Horizontal axis titles
for c in range(2):
    xc = (COL_X[c][0] + COL_X[c][1]) / 2
    fig.text(fx(xc), fy(1096), r"$\phi$ (°)", ha="center", va="center", fontsize=11)

fig.savefig("out.png", dpi=100)
